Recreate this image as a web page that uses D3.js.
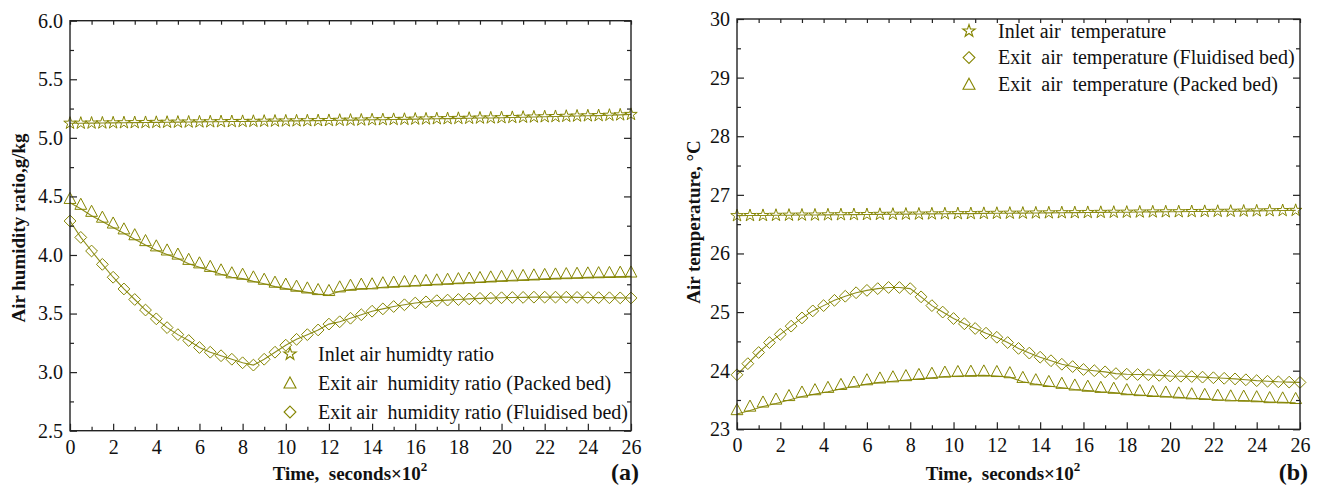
<!DOCTYPE html>
<html><head><meta charset="utf-8">
<script src="https://cdn.jsdelivr.net/npm/d3@7"></script>
<style>
html,body{margin:0;padding:0;background:#fff;}
text{font-family:"Liberation Serif","Times New Roman",serif;fill:#111;}
</style></head>
<body>
<svg id="chart" width="1320" height="489"></svg>
<script>
// ---------- data ----------
const timeHalf = [0,0.5,1,1.5,2,2.5,3,3.5,4,4.5,5,5.5,6,6.5,7,7.5,8,8.5,9,9.5,10,10.5,11,11.5,12,12.5,13,13.5,14,14.5,15,15.5,16,16.5,17,17.5,18,18.5,19,19.5,20,20.5,21,21.5,22,22.5,23,23.5,24,24.5,25,25.5,26];
const timeSix = [0,0.6,1.2,1.8,2.4,3,3.6,4.2,4.8,5.4,6,6.6,7.2,7.8,8.4,9,9.6,10.2,10.8,11.4,12,12.6,13.2,13.8,14.4,15,15.6,16.2,16.8,17.4,18,18.6,19.2,19.8,20.4,21,21.6,22.2,22.8,23.4,24,24.6,25.2,25.8];

// (a) humidity ratio, g/kg
const inletHumidity = [5.125,5.125,5.126,5.127,5.128,5.129,5.130,5.131,5.132,5.133,
  5.134,5.135,5.136,5.137,5.138,5.139,5.140,5.141,5.142,5.143,
  5.144,5.145,5.146,5.147,5.148,5.150,5.151,5.152,5.154,5.155,
  5.157,5.158,5.160,5.161,5.163,5.164,5.166,5.167,5.169,5.170,
  5.172,5.174,5.176,5.178,5.180,5.182,5.184,5.186,5.188,5.190,
  5.193,5.196,5.200];
const packedHumidity = [4.445,4.395,4.335,4.285,4.235,4.185,4.135,4.085,4.040,4.005,
  3.970,3.925,3.895,3.865,3.835,3.810,3.798,3.775,3.755,3.730,
  3.713,3.696,3.681,3.667,3.659,3.690,3.704,3.713,3.716,3.725,
  3.730,3.735,3.740,3.745,3.750,3.755,3.760,3.765,3.770,3.775,
  3.780,3.784,3.788,3.792,3.796,3.800,3.803,3.806,3.809,3.811,
  3.813,3.815,3.817];
const fluidHumidity = [4.29,4.15,4.034,3.92,3.81,3.71,3.62,3.53,3.455,3.38,
  3.32,3.27,3.21,3.17,3.14,3.11,3.08,3.06,3.11,3.17,
  3.23,3.28,3.32,3.36,3.41,3.43,3.46,3.49,3.52,3.54,
  3.56,3.575,3.59,3.60,3.61,3.615,3.62,3.625,3.63,3.632,
  3.635,3.637,3.638,3.64,3.64,3.64,3.64,3.638,3.637,3.636,
  3.635,3.634,3.633];

// (b) air temperature, °C
const inletTemp = [26.645,26.647,26.648,26.651,26.653,26.655,26.656,26.659,26.661,26.663,
  26.664,26.667,26.669,26.671,26.672,26.675,26.677,26.679,26.680,26.683,
  26.685,26.687,26.688,26.691,26.693,26.695,26.696,26.699,26.701,26.703,
  26.704,26.707,26.709,26.711,26.712,26.715,26.717,26.719,26.720,26.723,
  26.726,26.729,26.732,26.735];
const fluidTemp = [23.93,24.12,24.31,24.48,24.62,24.76,24.90,25.02,25.11,25.20,
  25.27,25.33,25.37,25.40,25.42,25.42,25.40,25.26,25.11,25.00,
  24.89,24.80,24.72,24.64,24.57,24.48,24.38,24.30,24.23,24.17,
  24.11,24.07,24.02,24.00,23.98,23.95,23.94,23.935,23.93,23.92,
  23.91,23.905,23.90,23.89,23.88,23.87,23.86,23.845,23.83,23.82,
  23.81,23.805,23.80];
const packedTemp = [23.26,23.32,23.39,23.44,23.50,23.56,23.60,23.64,23.69,23.73,
  23.77,23.80,23.82,23.84,23.86,23.88,23.90,23.91,23.915,23.92,
  23.91,23.89,23.81,23.77,23.74,23.71,23.68,23.66,23.64,23.625,
  23.60,23.585,23.57,23.56,23.545,23.53,23.52,23.505,23.495,23.49,
  23.48,23.465,23.46,23.45];

// ticks
const xMajorTicks = [0,2,4,6,8,10,12,14,16,18,20,22,24,26];
const xMinorTicks = [1,3,5,7,9,11,13,15,17,19,21,23,25];
const humidityMajorTicks = [2.5,3.0,3.5,4.0,4.5,5.0,5.5,6.0];
const humidityMinorTicks = [2.75,3.25,3.75,4.25,4.75,5.25,5.75];
const tempMajorTicks = [23,24,25,26,27,28,29,30];
const tempMinorTicks = [23.5,24.5,25.5,26.5,27.5,28.5,29.5];

// labels
const legendA = ["Inlet air humidty ratio","Exit air  humidity ratio (Packed bed)","Exit air  humidity ratio (Fluidised bed)"];
const legendB = ["Inlet air  temperature","Exit  air  temperature (Fluidised bed)","Exit  air  temperature (Packed bed)"];

// ---------- drawing ----------
const OLIVE = "#858500";
const LINE = "#8e8e1c";
const FONT = "Liberation Serif";
const svg = d3.select("#chart");

const shapes = {
  star: d3.symbol(d3.symbolStar, 48)(),
  tri: "M0,-10.5L5.9,0.6L-5.9,0.6Z",
  triLegend: "M0,-6L6,5L-6,5Z",
  diamond: "M0,-5.9L5.9,0L0,5.9L-5.9,0Z"
};

const panels = [
  {
    left:70, right:631, top:20.7, bottom:430.7,
    yDomain:[2.5,6], yMajor:humidityMajorTicks, yMinor:humidityMinorTicks, yFmt:d3.format(".1f"),
    series:[
      {t:timeHalf, v:inletHumidity, shape:"star", name:legendA[0]},
      {t:timeHalf, v:packedHumidity, shape:"tri", name:legendA[1]},
      {t:timeHalf, v:fluidHumidity, shape:"diamond", name:legendA[2]}
    ],
    legend:{mx:290, tx:318, y0:354, dy:29},
    yTitle:"Air humidity ratio,g/kg", yTitleX:25, yTitleCY:228,
    xTitleCX:350, tag:"(a)", tagX:639
  },
  {
    left:737, right:1300, top:19, bottom:429.3,
    yDomain:[23,30], yMajor:tempMajorTicks, yMinor:tempMinorTicks, yFmt:d3.format("d"),
    series:[
      {t:timeSix, v:inletTemp, shape:"star", name:legendB[0]},
      {t:timeHalf, v:fluidTemp, shape:"diamond", name:legendB[1]},
      {t:timeSix, v:packedTemp, shape:"tri", name:legendB[2]}
    ],
    legend:{mx:969, tx:998, y0:31, dy:26.6},
    yTitle:"Air temperature, \u00B0C", yTitleX:700, yTitleCY:222,
    xTitleCX:1003, tag:"(b)", tagX:1308
  }
];

panels.forEach(p => {
  const x = d3.scaleLinear().domain([0,26]).range([p.left,p.right]);
  const y = d3.scaleLinear().domain(p.yDomain).range([p.bottom,p.top]);
  const g = svg.append("g");

  // series lines + markers
  p.series.forEach(s => {
    const pts = s.t.map((t,i)=>[t, s.v[i]]);
    g.append("path").datum(pts)
      .attr("fill","none").attr("stroke",LINE).attr("stroke-width",1.1)
      .attr("d", d3.line().x(d=>x(d[0])).y(d=>y(d[1])));
    g.append("g").selectAll("path").data(pts).join("path")
      .attr("d", shapes[s.shape])
      .attr("transform", d=>`translate(${x(d[0])},${y(d[1])})`)
      .attr("fill","none").attr("stroke",OLIVE).attr("stroke-width",1.0);
  });

  // axes (ticks inward)
  const styleAxis = sel => {
    sel.attr("font-family",FONT).attr("font-size",20);
    sel.select(".domain").remove();
    sel.selectAll(".tick line").attr("stroke","#222").attr("stroke-width",1.2);
    sel.selectAll(".tick text").attr("fill","#111");
  };
  g.append("g").attr("transform",`translate(0,${p.bottom})`)
    .call(d3.axisBottom(x).tickValues(xMajorTicks).tickSize(-7).tickSizeOuter(0).tickPadding(9).tickFormat(d3.format("d"))).call(styleAxis);
  g.append("g").attr("transform",`translate(0,${p.bottom})`)
    .call(d3.axisBottom(x).tickValues(xMinorTicks).tickSize(-4).tickSizeOuter(0).tickFormat("")).call(styleAxis);
  g.append("g").attr("transform",`translate(0,${p.top})`)
    .call(d3.axisTop(x).tickValues(xMajorTicks.concat(xMinorTicks)).tickSize(-4).tickSizeOuter(0).tickFormat("")).call(styleAxis);
  g.append("g").attr("transform",`translate(${p.left},0)`)
    .call(d3.axisLeft(y).tickValues(p.yMajor).tickSize(-7).tickSizeOuter(0).tickPadding(7).tickFormat(p.yFmt)).call(styleAxis);
  g.append("g").attr("transform",`translate(${p.left},0)`)
    .call(d3.axisLeft(y).tickValues(p.yMinor).tickSize(-4).tickSizeOuter(0).tickFormat("")).call(styleAxis);
  g.append("g").attr("transform",`translate(${p.right},0)`)
    .call(d3.axisRight(y).tickValues(p.yMajor).tickSize(-7).tickSizeOuter(0).tickFormat("")).call(styleAxis);
  g.append("g").attr("transform",`translate(${p.right},0)`)
    .call(d3.axisRight(y).tickValues(p.yMinor).tickSize(-4).tickSizeOuter(0).tickFormat("")).call(styleAxis);

  // frame
  g.append("rect").attr("x",p.left).attr("y",p.top)
    .attr("width",p.right-p.left).attr("height",p.bottom-p.top)
    .attr("fill","none").attr("stroke","#222").attr("stroke-width",1.4);

  // legend
  const lg = g.append("g");
  p.series.forEach((s,i) => {
    const cy = p.legend.y0 + i*p.legend.dy;
    lg.append("path").attr("d", s.shape==="tri" ? shapes.triLegend : shapes[s.shape])
      .attr("transform",`translate(${p.legend.mx},${cy})`)
      .attr("fill","none").attr("stroke",OLIVE).attr("stroke-width",1.1);
    lg.append("text").attr("x",p.legend.tx).attr("y",cy+6.5)
      .attr("font-family",FONT).attr("font-size",20).style("white-space","pre").text(s.name);
  });

  // y title
  g.append("text")
    .attr("transform",`translate(${p.yTitleX},${p.yTitleCY}) rotate(-90)`)
    .attr("text-anchor","middle").attr("font-family",FONT).attr("font-weight","bold").attr("font-size",19)
    .text(p.yTitle);

  // x title
  const xt = g.append("text").attr("x",p.xTitleCX).attr("y",480)
    .attr("text-anchor","middle").attr("font-family",FONT).attr("font-weight","bold").attr("font-size",19)
    .style("white-space","pre");
  xt.append("tspan").text("Time,  seconds\u00D710");
  xt.append("tspan").attr("font-size",13).attr("dy",-9).text("2");

  // panel tag
  g.append("text").attr("x",p.tagX).attr("y",480).attr("text-anchor","end")
    .attr("font-family",FONT).attr("font-weight","bold").attr("font-size",24).text(p.tag);
});
</script>
</body></html>
